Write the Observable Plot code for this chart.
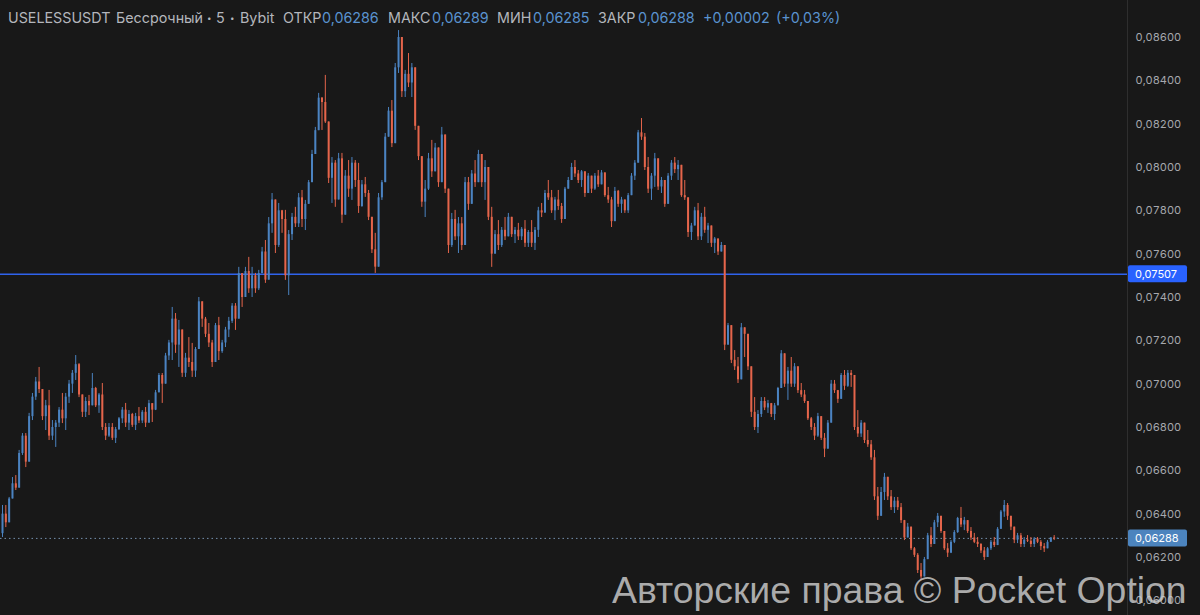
<!DOCTYPE html>
<html><head><meta charset="utf-8">
<script src="https://cdn.jsdelivr.net/npm/d3@7"></script>
<script src="https://cdn.jsdelivr.net/npm/@observablehq/plot@0.6"></script>
<style>
html,body{margin:0;padding:0;background:#181818;overflow:hidden}
#wrap{position:relative;width:1200px;height:615px;background:#181818}
.hd{position:absolute;top:9px;font-family:Inter,"Noto Sans",sans-serif;font-size:14.3px;line-height:18px;white-space:nowrap;color:#b4b6bc}
.v{color:#5a93cf}
.dot{font-size:8px}
#wm{position:absolute;left:612px;top:572px;font-family:"Liberation Sans",Arial,sans-serif;font-size:37.4px;line-height:37px;color:rgba(205,205,205,0.82);white-space:nowrap}
</style></head>
<body><div id="wrap"></div>
<script>
// Prices in units of 0.00001 USDT (6288 = 0,06288)
const firstOpen = 6310;
const high = [
6440,6440,6477,6569,6578,6694,6772,6772,6865,6957,
7031,7077,6971,6925,6971,6832,6832,6892,6957,6957,
7017,7063,7132,7095,6938,6938,6948,7049,6985,6957,
7003,6818,6818,6818,6800,6846,6892,6911,6878,6865,
6865,6892,6878,6892,6925,6892,6971,7049,7049,7142,
7202,7354,7326,7294,7215,7142,7215,7188,7169,7400,
7372,7308,7280,7202,7280,7308,7202,7262,7308,7372,
7372,7539,7492,7539,7585,7539,7511,7525,7631,7663,
7769,7880,7848,7834,7802,7802,7709,7788,7816,7880,
7894,7848,7940,8079,8185,8342,8323,8425,8065,8046,
8032,8065,8065,7986,8032,8046,8032,8019,7940,7954,
7894,7769,7696,7880,7940,8157,8277,8309,8480,8632,
8554,8448,8526,8480,8342,8185,8000,7940,8065,8125,
8111,8065,8185,8032,7880,7788,7802,7769,7769,7954,
7954,7986,8032,8079,8046,8032,7908,7816,7709,7755,
7723,7769,7788,7755,7723,7742,7723,7755,7709,7755,
7723,7816,7834,7894,7940,7894,7862,7894,7834,7908,
7954,8019,8032,7986,7986,7940,7972,7954,7972,7986,
7986,7954,7908,7862,7908,7894,7862,7848,7880,7972,
8032,8171,8226,8157,8046,7972,8065,8032,7954,7926,
7972,8032,8046,8032,7954,7940,7816,7742,7816,7834,
7788,7816,7742,7709,7677,7663,7654,7617,7280,7215,
7155,7123,7280,7248,7169,7077,6938,6878,6938,6938,
6925,6911,6911,6985,7155,7109,7077,7123,7095,7077,
7003,6971,6911,6846,6818,6865,6818,6772,6832,7017,
7017,6971,7049,7063,7063,7063,7017,6878,6832,6818,
6786,6740,6694,6523,6523,6588,6569,6509,6477,6477,
6449,6371,6357,6292,6246,6218,6172,6200,6311,6338,
6371,6403,6385,6292,6264,6278,6324,6385,6431,6385,
6357,6338,6311,6292,6264,6246,6246,6278,6292,6338,
6417,6463,6449,6385,6338,6311,6311,6292,6301,6292,
6292,6292,6278,6264,6278,6292,6301,6289];
const low = [
6292,6338,6371,6495,6509,6601,6671,6615,6763,6832,
6925,6957,6832,6786,6740,6740,6708,6800,6818,6786,
6911,6957,7017,6938,6846,6846,6855,6911,6892,6865,
6786,6740,6754,6740,6726,6786,6818,6800,6786,6800,
6786,6818,6818,6800,6832,6823,6878,6971,6911,7049,
7109,7109,7142,7077,7031,7031,7077,7031,7031,7262,
7262,7215,7169,7077,7202,7109,7142,7169,7215,7280,
7248,7386,7354,7419,7419,7400,7419,7432,7511,7465,
7571,7696,7603,7631,7696,7479,7409,7663,7723,7723,
7723,7709,7862,7940,8111,8185,8171,8203,7926,7834,
7816,7880,7742,7848,7862,7848,7908,7788,7816,7862,
7755,7603,7511,7603,7848,8032,8171,8092,8296,8434,
8323,8323,8369,8323,8171,8032,7816,7769,7894,7954,
8000,7908,7972,7880,7603,7631,7663,7603,7617,7769,
7802,7880,7908,7986,7908,7848,7755,7539,7603,7617,
7631,7663,7696,7677,7649,7663,7663,7631,7631,7631,
7617,7677,7769,7788,7848,7788,7755,7802,7742,7816,
7908,7940,7954,7926,7908,7862,7894,7880,7894,7908,
7926,7862,7834,7723,7816,7816,7788,7788,7788,7880,
7940,8032,8125,7986,7880,7848,7908,7894,7880,7816,
7848,7940,7972,7940,7862,7848,7677,7663,7755,7663,
7663,7696,7649,7631,7603,7594,7617,7155,7188,7095,
7063,7003,7123,7123,7063,6846,6786,6772,6846,6878,
6865,6846,6832,6911,6985,6985,6925,6985,6985,6957,
6938,6911,6832,6786,6740,6754,6740,6661,6726,6832,
6957,6911,6971,6971,6985,6985,6786,6754,6754,6726,
6708,6648,6463,6371,6403,6463,6463,6417,6403,6417,
6357,6278,6292,6232,6200,6126,6094,6126,6218,6246,
6278,6338,6311,6232,6200,6218,6264,6311,6338,6324,
6311,6278,6264,6246,6218,6186,6218,6232,6246,6264,
6338,6385,6371,6324,6264,6264,6246,6246,6269,6246,
6246,6264,6232,6223,6246,6278,6278,6285];
const close = [
6400,6360,6470,6540,6520,6680,6760,6640,6850,6940,
7010,6975,6850,6900,6760,6800,6820,6880,6840,6940,
7000,7050,7090,6950,6870,6920,6900,6980,6900,6950,
6800,6760,6800,6750,6790,6840,6880,6820,6860,6810,
6850,6830,6870,6820,6910,6880,6960,7040,7000,7130,
7190,7300,7180,7250,7050,7120,7100,7060,7160,7380,
7300,7230,7190,7100,7270,7150,7190,7250,7290,7360,
7300,7510,7400,7520,7440,7500,7440,7510,7610,7480,
7740,7850,7640,7800,7760,7500,7690,7770,7740,7860,
7760,7830,7930,8060,8170,8320,8300,8210,7950,8020,
7850,8040,7780,7960,7900,8020,7940,7820,7920,7880,
7770,7620,7540,7860,7930,8140,8260,8110,8460,8600,
8350,8430,8390,8460,8190,8050,7840,7900,8040,7980,
8090,7930,8150,7900,7640,7760,7680,7740,7640,7930,
7830,7970,7930,8060,7930,8000,7770,7600,7690,7640,
7710,7680,7770,7690,7710,7680,7715,7650,7700,7650,
7710,7800,7790,7880,7860,7800,7850,7820,7760,7900,
7940,8000,7970,7940,7980,7880,7960,7900,7960,7920,
7975,7870,7850,7750,7890,7830,7850,7800,7870,7960,
8020,8160,8140,8000,7900,7960,8040,7910,7940,7830,
7960,8020,7990,8010,7870,7860,7700,7730,7800,7680,
7770,7710,7730,7650,7670,7610,7640,7180,7270,7110,
7080,7020,7260,7230,7080,6870,6800,6860,6920,6890,
6910,6860,6900,6980,7140,7000,7060,7000,7080,6970,
6950,6920,6840,6800,6760,6850,6750,6700,6820,7000,
6970,6930,7040,6990,7050,7040,6800,6770,6820,6740,
6720,6660,6480,6390,6500,6570,6480,6430,6460,6430,
6370,6290,6340,6240,6210,6140,6110,6190,6300,6260,
6360,6390,6320,6240,6220,6270,6315,6380,6350,6370,
6320,6290,6270,6260,6230,6200,6240,6270,6255,6330,
6410,6440,6390,6340,6280,6300,6260,6280,6275,6260,
6285,6270,6250,6240,6270,6290,6286,6288];
const yTicks = [6000,6200,6400,6600,6800,7000,7200,7400,7600,7800,8000,8200,8400,8600];
const levelLine = 7507;
const lastPrice = 6288;

const fmt = v => (v / 1e5).toFixed(5).replace(".", ",");
const n = close.length;
const open = [firstOpen, ...close.slice(0, -1)];
const candles = close.map((c, i) => ({i, o: open[i], h: high[i], l: low[i], c}));
const up = "#4b83c1", down = "#e5654b";
const col = d => d.c >= d.o ? up : down;

const plot = Plot.plot({
  width: 1200, height: 615,
  marginLeft: 0, marginRight: 73, marginTop: 0, marginBottom: 0,
  style: {background: "transparent", color: "#a6a8ae", fontFamily: "Inter, 'Noto Sans', sans-serif", fontSize: "11px"},
  x: {domain: [0, n - 1], range: [2, 1057], axis: null},
  y: {domain: [6000, 8600], range: [600.3, 37], axis: null},
  marks: [
    Plot.axisY({anchor: "right", ticks: yTicks, tickSize: 0, tickPadding: 8, tickFormat: fmt, fill: "#a6a8ae", label: null}),
    Plot.frame({anchor: "right", stroke: "#2e2e2e"}),
    Plot.ruleY([levelLine], {stroke: "#2f62ec", strokeWidth: 1.5}),
    Plot.ruleY([lastPrice], {stroke: "#7590ad", strokeWidth: 1, strokeDasharray: "1.5,3"}),
    Plot.ruleX(candles, {x: "i", y1: d => Math.min(d.l, d.o, d.c), y2: d => Math.max(d.h, d.o, d.c), stroke: col, strokeWidth: 1}),
    Plot.ruleX(candles, {x: "i", y1: "o", y2: "c", stroke: col, strokeWidth: 2})
  ]
});

const wrap = document.getElementById("wrap");
wrap.appendChild(plot);

// price tags on the axis
const ys = plot.scale("y");
const svg = d3.select(plot);
[[levelLine, "#2962ff"], [lastPrice, "#4c84be"]].forEach(([v, fill]) => {
  const y = ys.apply(v);
  svg.append("rect").attr("x", 1128).attr("y", y - 8.5).attr("width", 59).attr("height", 17).attr("rx", 2).attr("fill", fill);
  svg.append("text").attr("x", 1135).attr("y", y).attr("dy", "0.35em").attr("fill", "#ffffff")
    .attr("text-anchor", "start").attr("font-size", 11).attr("font-family", "Inter, 'Noto Sans', sans-serif").text(fmt(v));
});

// header
const header = [
  [8, "USELESSUSDT", ""], [116, "Бессрочный", ""], [207, "•", "dot"], [216, "5", ""], [230, "•", "dot"], [240, "Bybit", ""],
  [283, "ОТКР", ""], [322, "0,06286", "v"],
  [388, "МАКС", ""], [432, "0,06289", "v"],
  [497, "МИН", ""], [533, "0,06285", "v"],
  [598, "ЗАКР", ""], [638, "0,06288", "v"],
  [703, "+0,00002", "v"], [776, "(+0,03%)", "v"]
];
header.forEach(([x, t, c]) => {
  const s = document.createElement("span");
  s.className = "hd " + c;
  s.style.left = x + "px";
  s.textContent = t;
  wrap.appendChild(s);
});
const wm = document.createElement("div");
wm.id = "wm";
wm.textContent = "Авторские права © Pocket Option";
wrap.appendChild(wm);
</script></body></html>
